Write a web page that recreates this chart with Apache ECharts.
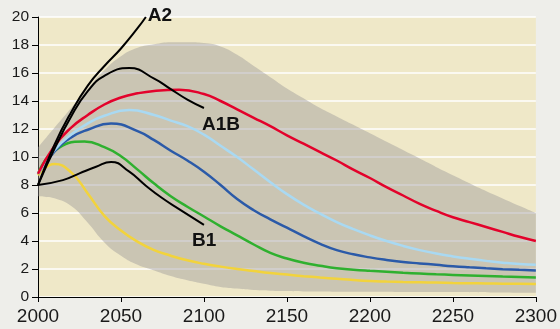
<!DOCTYPE html>
<html>
<head>
<meta charset="utf-8">
<script src="https://cdn.jsdelivr.net/npm/echarts@6/dist/echarts.min.js"></script>
<style>
  html, body { margin: 0; padding: 0; background: #eeeeea; }
  #chart { width: 560px; height: 329px; }
</style>
</head>
<body>
<div id="chart"></div>
<script>
// ---- data ----
const tail = [2110,2120,2130,2140,2150,2160,2170,2180,2190,2200,2210,2220,2230,2240,2250,2260,2270,2280,2290,2300];

const redYears       = [2000,2010,2020,2030,2040,2050,2060,2070,2085,2100].concat(tail);
const red            = [8.8,10.8,12.1,13.0,13.75,14.25,14.55,14.72,14.8,14.5, 14.0,13.4,12.8,12.2,11.55,10.95,10.35,9.75,9.1,8.5,7.85,7.25,6.65,6.15,5.7,5.35,5.0,4.65,4.3,4.0];
const lightBlueYears = [2000,2010,2020,2030,2040,2055,2070,2080,2090,2100].concat(tail);
const lightBlue      = [8.8,10.5,11.6,12.4,12.95,13.35,13.0,12.6,12.2,11.6, 10.8,10.0,9.1,8.2,7.35,6.6,5.95,5.35,4.85,4.4,4.0,3.65,3.35,3.1,2.9,2.73,2.58,2.45,2.35,2.3];
const darkBlueYears  = [2000,2010,2020,2030,2044,2060,2070,2080,2090,2100].concat(tail);
const darkBlue       = [8.8,10.4,11.4,11.95,12.4,11.85,11.2,10.45,9.75,8.95, 8.0,7.0,6.2,5.55,4.95,4.35,3.8,3.35,3.05,2.83,2.65,2.5,2.4,2.3,2.2,2.12,2.05,1.99,1.94,1.9];
const greenYears     = [2000,2010,2028,2040,2050,2060,2070,2080,2090,2100].concat(tail);
const green          = [8.8,10.45,11.1,10.7,10.05,9.1,8.1,7.2,6.45,5.75, 5.05,4.4,3.75,3.15,2.75,2.45,2.23,2.05,1.95,1.87,1.8,1.73,1.67,1.62,1.58,1.54,1.5,1.46,1.43,1.4];
const yellowYears    = [2000,2010,2020,2030,2040,2050,2060,2070,2080,2090,2100].concat(tail);
const yellow         = [8.7,9.5,8.9,7.4,5.8,4.75,3.95,3.35,2.95,2.62,2.37, 2.17,2.0,1.85,1.71,1.6,1.49,1.39,1.3,1.21,1.14,1.1,1.07,1.05,1.03,1.0,0.98,0.97,0.95,0.94,0.93];

const a2Years  = [2000,2010,2020,2030,2040,2050,2060,2065];
const a2       = [8.0,10.9,13.2,15.1,16.5,17.75,19.2,20.0];
const a1bYears = [2000,2010,2020,2030,2040,2055,2070,2080,2090,2100];
const a1b      = [8.0,10.6,12.9,14.7,15.8,16.35,15.6,14.85,14.1,13.5];
const b1Years  = [2000,2015,2025,2035,2044,2055,2065,2075,2085,2100];
const b1       = [8.0,8.35,8.83,9.3,9.65,8.95,7.95,7.05,6.28,5.15];

const bandYears = [2000,2005,2010,2020,2030,2040,2050,2060,2070,2080,2090,2100,2110,2120,2130,2140,2150,2160,2170,2180,2190,2200,2225,2250,2275,2300];
const bandHigh  = [10.7,11.4,12.1,13.5,14.9,16.2,17.2,17.8,18.05,18.2,18.2,18.15,17.9,17.3,16.5,15.7,14.9,14.2,13.5,12.9,12.3,11.7,10.2,8.7,7.3,6.0];
const bandLow   = [7.2,7.15,7.05,6.5,5.3,3.9,2.95,2.3,1.9,1.5,1.2,0.95,0.72,0.6,0.5,0.45,0.42,0.4,0.39,0.38,0.38,0.38,0.36,0.35,0.32,0.3];

const xTicks = { min: 2000, max: 2300, step: 50 };
const yTicks = { min: 0, max: 20, step: 2 };

// ---- chart ----
const pairs = (xs, ys) => xs.map((x, i) => [x, ys[i]]);
const FONT = '"Liberation Sans", Arial, sans-serif';
const SM = { smooth: 0.5 };

function line(name, xs, ys, color, width, extra) {
  return Object.assign({
    name, type: 'line', data: pairs(xs, ys),
    showSymbol: false, symbol: 'none',
    lineStyle: { color, width }, z: 3, silent: true
  }, SM, extra || {});
}
function bold(text, offset) {
  return { show: true, formatter: text, distance: 0, offset,
    fontFamily: FONT, fontWeight: 'bold', fontSize: 19, color: '#111' };
}

const chart = echarts.init(document.getElementById('chart'), null, { renderer: 'canvas' });
chart.setOption({
  animation: false,
  backgroundColor: '#eeeeea',
  grid: { left: 38, right: 18, top: 17, bottom: 32, show: true,
          backgroundColor: '#efe8c8', borderWidth: 0 },
  xAxis: {
    type: 'value', min: xTicks.min, max: xTicks.max, interval: xTicks.step,
    axisLine: { show: true, onZero: false, lineStyle: { color: '#000', width: 1 } },
    axisTick: { show: true, length: 5, lineStyle: { color: '#000' } },
    axisLabel: { color: '#1a1a1a', fontFamily: '"Liberation Sans Narrow", "Liberation Sans", Arial, sans-serif',
                 fontSize: 19, margin: 10, formatter: v => String(v) },
    splitLine: { show: false }
  },
  yAxis: {
    type: 'value', min: yTicks.min, max: yTicks.max, interval: yTicks.step,
    axisLine: { show: true, lineStyle: { color: '#000', width: 1 } },
    axisTick: { show: true, length: 6, lineStyle: { color: '#000' } },
    axisLabel: { color: '#1a1a1a', fontFamily: FONT, fontSize: 15.5, margin: 9 },
    splitLine: { show: true, lineStyle: { color: '#ffffff', width: 1.5 } }
  },
  series: [
    Object.assign({ name: 'bandLow', type: 'line', stack: 'band',
      data: bandYears.map((x, i) => [bandLow[i], x]), encode: { x: 1, y: 0 },
      symbol: 'none', lineStyle: { width: 0, opacity: 0 }, z: 2, silent: true }, SM),
    Object.assign({ name: 'bandHigh', type: 'line', stack: 'band',
      data: bandYears.map((x, i) => [bandHigh[i] - bandLow[i], x]), encode: { x: 1, y: 0 },
      symbol: 'none', lineStyle: { width: 0, opacity: 0 },
      areaStyle: { color: 'rgba(150,148,150,0.42)', opacity: 1 }, z: 2, silent: true }, SM),
    line('yellow', yellowYears, yellow, '#f2d33c', 2.5),
    line('green', greenYears, green, '#2fb02f', 2.5),
    line('darkBlue', darkBlueYears, darkBlue, '#2b5aa8', 2.5),
    line('lightBlue', lightBlueYears, lightBlue, '#a9d9f2', 2.5),
    line('red', redYears, red, '#e3022b', 2.5),
    line('B1', b1Years, b1, '#000', 2, { z: 4, endLabel: bold('B1', [-12, 16]) }),
    line('A1B', a1bYears, a1b, '#000', 2, { z: 4, endLabel: bold('A1B', [-2, 16.5]) }),
    line('A2', a2Years, a2, '#000', 2, { z: 4, endLabel: bold('A2', [2, -1]) })
  ]
});
</script>
</body>
</html>
